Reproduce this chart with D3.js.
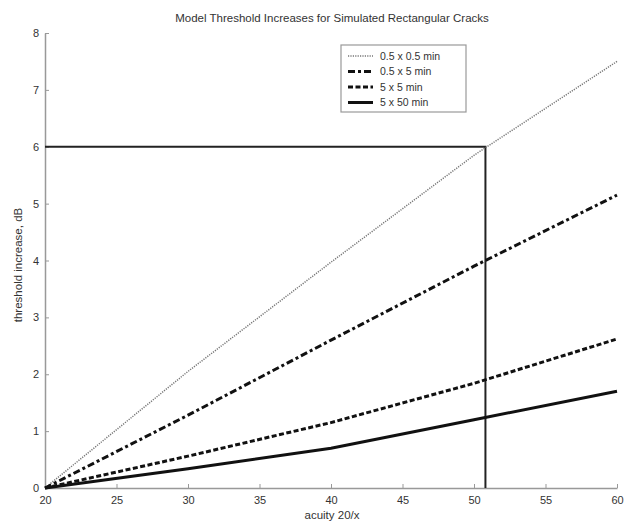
<!DOCTYPE html>
<html><head><meta charset="utf-8">
<script src="https://cdn.jsdelivr.net/npm/d3@7"></script>
<style>body{margin:0;background:#fff}svg{display:block}text{font-family:"Liberation Sans",Arial,sans-serif;fill:#333}</style>
</head><body><svg id="c" width="624" height="524"></svg>
<script>
const acuity = [20, 30, 40, 50, 60];
const s05x05 = [0, 2.05, 3.97, 5.85, 7.5];
const s05x5 = [0, 1.28, 2.6, 3.9, 5.15];
const s5x5 = [0, 0.56, 1.15, 1.84, 2.62];
const s5x50 = [0, 0.34, 0.7, 1.2, 1.7];
const seriesNames = ["0.5 x 0.5 min", "0.5 x 5 min", "5 x 5 min", "5 x 50 min"];
const refX = [20, 50.8, 50.8];
const refY = [6, 6, 0];
const xTicks = [20, 25, 30, 35, 40, 45, 50, 55, 60];
const yTicks = [0, 1, 2, 3, 4, 5, 6, 7, 8];

const svg = d3.select("#c");
const x = d3.scaleLinear().domain([20, 60]).range([45, 617]);
const y = d3.scaleLinear().domain([0, 8]).range([488, 33]);

const styles = [
  {stroke:"#777", w:1.5, dash:"1.2,1.2"},
  {stroke:"#111", w:3, dash:"7,3,3,3"},
  {stroke:"#111", w:3, dash:"5,2.5"},
  {stroke:"#111", w:3, dash:null}
];
const allSeries = [s05x05, s05x5, s5x5, s5x50];

// axes
const xa = svg.append("g").attr("transform","translate(0,488)")
  .call(d3.axisBottom(x).tickValues(xTicks).tickSize(-4).tickPadding(6).tickSizeOuter(0));
const ya = svg.append("g").attr("transform","translate(45,0)")
  .call(d3.axisLeft(y).tickValues(yTicks).tickSize(-4).tickPadding(6).tickSizeOuter(0));
[xa, ya].forEach(a => {
  a.select(".domain").attr("stroke","#999").attr("stroke-width",1.5);
  a.selectAll(".tick line").attr("stroke","#999");
  a.selectAll(".tick text").attr("font-size",11).attr("fill","#333").attr("font-family","Liberation Sans, Arial, sans-serif");
});
xa.selectAll(".tick text").attr("dy","0.9em");

const line = d3.line().x(d => x(d[0])).y(d => y(d[1]));

// reference lines
svg.append("path").datum(refX.map((v,i)=>[v, refY[i]]))
  .attr("d", line).attr("fill","none").attr("stroke","#222").attr("stroke-width",2);

allSeries.forEach((s, i) => {
  svg.append("path").datum(acuity.map((a,j)=>[a, s[j]]))
    .attr("d", line).attr("fill","none")
    .attr("stroke", styles[i].stroke).attr("stroke-width", styles[i].w)
    .attr("stroke-dasharray", styles[i].dash);
});

// title & labels
svg.append("text").attr("x",332).attr("y",22).attr("text-anchor","middle").attr("font-size",11.5).text("Model Threshold Increases for Simulated Rectangular Cracks");
svg.append("text").attr("x",332).attr("y",519).attr("text-anchor","middle").attr("font-size",11.5).text("acuity 20/x");
svg.append("text").attr("transform","translate(22,265) rotate(-90)").attr("text-anchor","middle").attr("font-size",11.5).text("threshold increase, dB");

// legend
const lg = svg.append("g");
lg.append("rect").attr("x",341).attr("y",45).attr("width",125).attr("height",67).attr("fill","#fff").attr("stroke","#999").attr("stroke-width",1.2);
seriesNames.forEach((n, i) => {
  const yy = 56 + i*15.5;
  lg.append("line").attr("x1",348).attr("x2",373).attr("y1",yy).attr("y2",yy)
    .attr("stroke", styles[i].stroke).attr("stroke-width", styles[i].w)
    .attr("stroke-dasharray", styles[i].dash);
  lg.append("text").attr("x",380).attr("y",yy+3.5).attr("font-size",10.5).text(n);
});
</script></body></html>
